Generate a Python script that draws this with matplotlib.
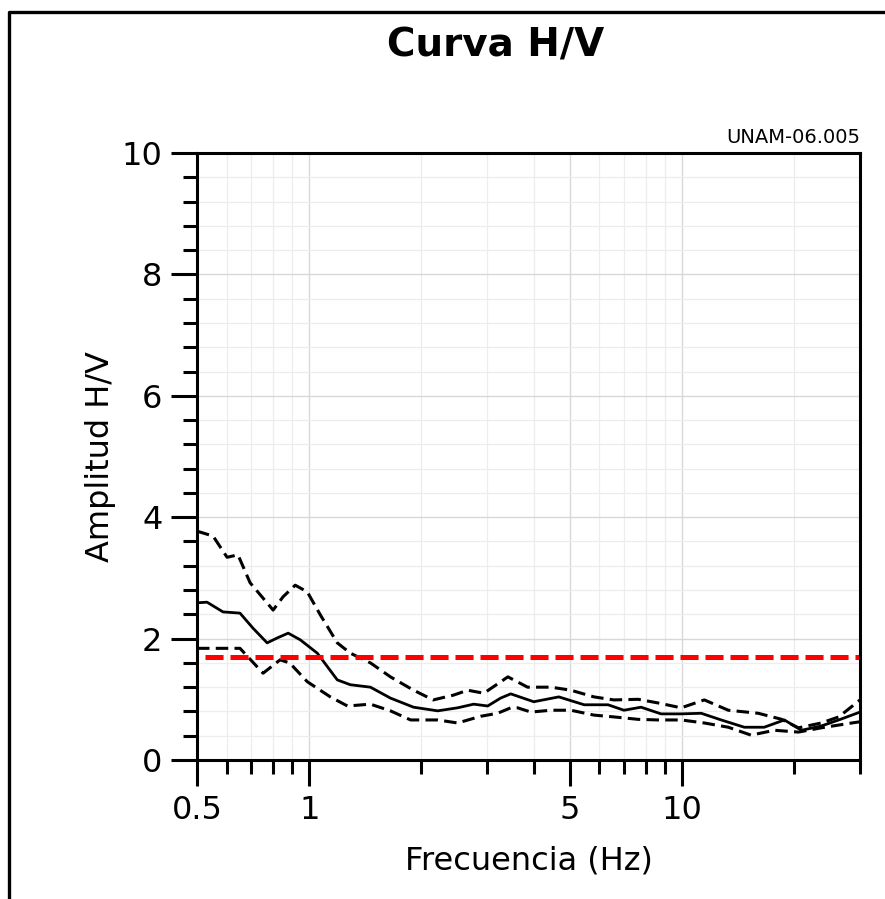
import matplotlib
matplotlib.use("Agg")
import matplotlib.pyplot as plt
from matplotlib.lines import Line2D
from matplotlib.ticker import FixedLocator, NullFormatter, MultipleLocator

plt.rcParams['font.family'] = ['DejaVu Sans']
plt.rcParams['lines.scale_dashes'] = False

# curva H/V promedio
freq_mean = [0.5, 0.532, 0.587, 0.652, 0.707, 0.771, 0.820, 0.878, 0.946, 1.051, 1.189, 1.289,
             1.459, 1.651, 1.904, 2.21, 2.50, 2.76, 3.01, 3.26, 3.47, 4.00, 4.67, 5.46, 6.33,
             6.98, 7.76, 8.78, 9.94, 11.25, 12.73, 14.68, 16.6, 18.8, 20.9, 23.6, 26.3, 30]
amp_mean = [2.59, 2.60, 2.44, 2.42, 2.17, 1.93, 2.01, 2.09, 1.98, 1.76, 1.32, 1.24,
            1.20, 1.02, 0.87, 0.81, 0.86, 0.92, 0.89, 1.02, 1.09, 0.96, 1.04, 0.91, 0.91,
            0.82, 0.87, 0.76, 0.76, 0.77, 0.66, 0.54, 0.54, 0.66, 0.49, 0.56, 0.66, 0.79]

# media + desviacion
freq_up = [0.5, 0.552, 0.602, 0.644, 0.694, 0.800, 0.851, 0.917, 0.988, 1.071, 1.189, 1.289,
           1.459, 1.651, 1.904, 2.15, 2.44, 2.66, 2.94, 3.41, 3.85, 4.45, 5.03, 5.80, 6.56,
           7.62, 8.62, 9.94, 11.47, 13.3, 16.0, 18.5, 20.5, 23.6, 26.3, 30]
amp_up = [3.77, 3.69, 3.34, 3.38, 2.92, 2.47, 2.69, 2.88, 2.77, 2.39, 1.93, 1.76,
          1.60, 1.37, 1.15, 0.99, 1.07, 1.15, 1.10, 1.37, 1.20, 1.20, 1.15, 1.04, 0.99,
          1.00, 0.94, 0.86, 0.99, 0.82, 0.77, 0.67, 0.53, 0.61, 0.71, 0.99]

# media - desviacion
freq_low = [0.5, 0.587, 0.652, 0.752, 0.835, 0.886, 0.988, 1.139, 1.266, 1.459, 1.651, 1.87,
            2.21, 2.50, 2.88, 3.20, 3.47, 3.62, 3.93, 4.45, 5.03, 5.80, 6.56, 7.62, 8.62,
            9.94, 11.47, 13.3, 15.3, 17.7, 20.5, 23.6, 28.5, 30]
amp_low = [1.84, 1.84, 1.84, 1.43, 1.65, 1.60, 1.29, 1.04, 0.89, 0.92, 0.81, 0.66,
           0.66, 0.61, 0.72, 0.77, 0.86, 0.86, 0.79, 0.82, 0.82, 0.74, 0.71, 0.67, 0.66,
           0.66, 0.61, 0.54, 0.41, 0.49, 0.46, 0.53, 0.61, 0.63]

umbral = 1.7
x_ticks = [0.5, 1, 5, 10]
x_ticklabels = ["0.5", "1", "5", "10"]
x_minor = [0.6, 0.7, 0.8, 0.9, 2, 3, 4, 6, 7, 8, 9, 20, 30]

fig = plt.figure(figsize=(8.85, 8.99), dpi=100)
ax = fig.add_axes([0.2226, 0.1546, 0.7492, 0.6752])

ax.set_xscale('log')
ax.set_xlim(0.5, 30)
ax.set_ylim(0, 10)

ax.xaxis.set_major_locator(FixedLocator(x_ticks))
ax.set_xticklabels(x_ticklabels)
ax.xaxis.set_minor_locator(FixedLocator(x_minor))
ax.xaxis.set_minor_formatter(NullFormatter())
ax.yaxis.set_major_locator(MultipleLocator(2))
ax.yaxis.set_minor_locator(MultipleLocator(0.4))

ax.grid(which='major', color='#d8d8d8', lw=1.0)
ax.grid(which='minor', color='#ededed', lw=0.9)
ax.set_axisbelow(True)

ax.plot(freq_mean, amp_mean, color='black', lw=2.0)
ax.plot(freq_up, amp_up, color='black', lw=2.2, dashes=(9, 4.5))
ax.plot(freq_low, amp_low, color='black', lw=2.2, dashes=(9, 4.5))
ax.axhline(umbral, xmin=0.012, xmax=1, color='#ff0000', lw=3.6, dashes=(13, 5))

for s in ax.spines.values():
    s.set_linewidth(2.2)

ax.tick_params(which='major', direction='out', length=19, width=2.2, labelsize=23, pad=6)
ax.tick_params(which='minor', direction='out', length=10, width=2.2)

ax.set_xlabel("Frecuencia (Hz)", fontsize=23, labelpad=14)
ax.set_ylabel("Amplitud H/V", fontsize=23, labelpad=4)

fig.text(496 / 885, 1 - 45 / 899, "Curva H/V", fontsize=28, fontweight='bold',
         ha='center', va='center')
ax.text(1.0, 1.01, "UNAM-06.005", transform=ax.transAxes, fontsize=14,
        ha='right', va='bottom')

# marco exterior
fig.add_artist(Line2D([9 / 885, 9 / 885, 1.0], [0.0, 1 - 11.5 / 899, 1 - 11.5 / 899],
                      transform=fig.transFigure, color='black', lw=2.4))

fig.savefig("out.png", dpi=100)
